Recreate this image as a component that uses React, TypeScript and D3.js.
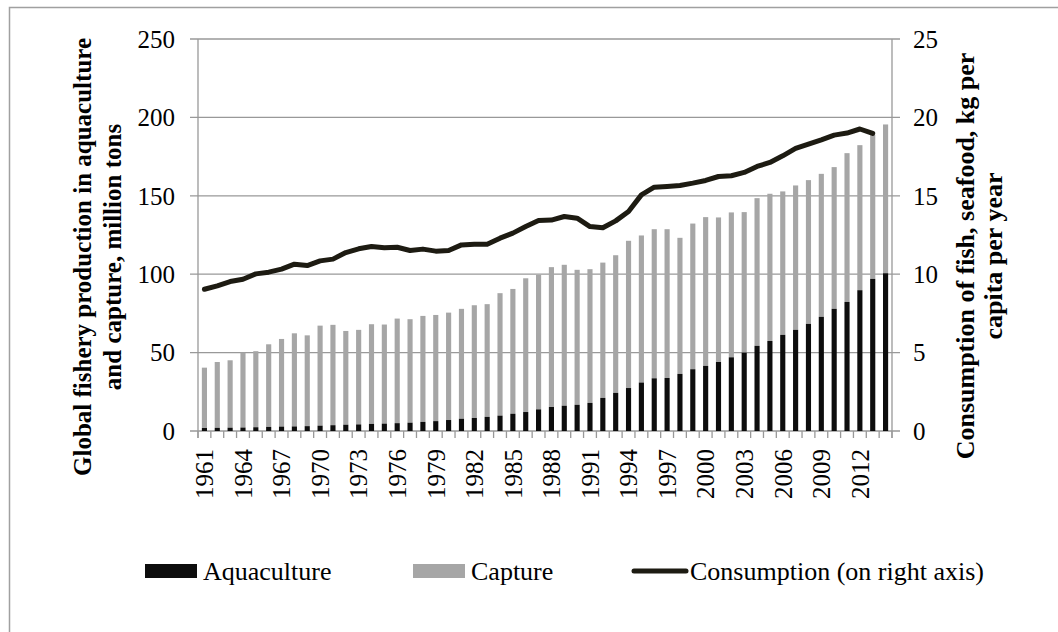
import * as d3 from "d3";

const years = d3.range(1961, 2015).map(String);

const aquaculture = [
  1.9, 2.0, 2.1, 2.2, 2.4, 2.6, 2.8, 2.9, 3.1, 3.4,
  3.7, 4.0, 4.2, 4.5, 4.7, 5.0, 5.3, 5.8, 6.3, 7.0,
  7.8, 8.3, 9.0, 9.8, 11.0, 12.1, 13.8, 15.3, 16.1, 16.7,
  17.9, 21.1, 24.3, 27.4, 30.9, 33.6, 33.8, 36.4, 39.4, 41.5,
  44.0, 47.0, 50.0, 54.3, 57.4, 61.3, 64.5, 68.3, 72.8, 77.9,
  82.3, 89.8, 97.0, 100.6,
];

const capture = [
  38.5, 42.0, 43.0, 47.8, 48.5, 52.7, 55.9, 59.4, 57.9, 63.8,
  64.0, 59.8, 60.3, 63.6, 63.2, 66.7, 66.0, 67.6, 67.7, 68.5,
  70.1, 71.9, 71.9, 78.1, 79.6, 85.3, 85.8, 89.2, 89.9, 86.1,
  85.3, 86.3, 87.8, 93.9, 93.8, 95.1, 94.9, 86.8, 92.9, 94.9,
  92.2, 92.4, 89.6, 94.2, 93.9, 91.5, 92.1, 91.7, 91.2, 90.4,
  94.9, 92.5, 92.0, 94.9,
];

// consumption runs 1961-2013
const consumption = [
  9.04, 9.26, 9.53, 9.68, 10.02, 10.13, 10.32, 10.64, 10.55, 10.85,
  10.96, 11.38, 11.62, 11.77, 11.68, 11.72, 11.51, 11.6, 11.47, 11.51,
  11.87, 11.91, 11.91, 12.3, 12.62, 13.04, 13.43, 13.45, 13.68, 13.57,
  13.04, 12.96, 13.4, 14.0, 15.06, 15.55, 15.6, 15.66, 15.81, 15.98,
  16.23, 16.28, 16.49, 16.87, 17.13, 17.55, 18.02, 18.3, 18.57, 18.87,
  19.0, 19.26, 18.98,
];

const leftTicks = [0, 50, 100, 150, 200, 250];
const rightTicks = [0, 5, 10, 15, 20, 25];
const labelYears = years.filter((_, i) => i % 3 === 0);

const legendItems = [
  { label: "Aquaculture", kind: "rect", color: "#0d0d0d" },
  { label: "Capture", kind: "rect", color: "#a6a6a6" },
  { label: "Consumption (on right axis)", kind: "line", color: "#1d1b12" },
];

const font = "'Liberation Serif', 'Times New Roman', serif";
const gridColor = "#999999";

export default function App() {
  const width = 1058;
  const height = 632;
  const left = 198,
    right = 892,
    top = 39,
    bottom = 431;

  const x = d3.scaleBand().domain(years).range([left, right]).paddingInner(0.6).paddingOuter(0.3);
  const y = d3.scaleLinear().domain([0, 250]).range([bottom, top]);
  const y2 = d3.scaleLinear().domain([0, 25]).range([bottom, top]);
  const step = x.step();
  const bw = x.bandwidth();
  const cx = (yr) => (x(yr) || 0) + bw / 2;

  const line = d3
    .line<number>()
    .x((_, i) => cx(years[i]))
    .y((d) => y2(d));

  const legendX = [145, 413, 632];

  return (
    <svg
      width={width}
      height={height}
      style={{ position: "absolute", left: 0, top: 0, background: "#fff" }}
      fontFamily={font}
    >
      <rect x={9.5} y={7.5} width={1100} height={700} fill="none" stroke="#a0a0a0" strokeWidth={1.5} />

      {/* grid + ticks */}
      {leftTicks.map((t) => (
        <g key={t}>
          <line x1={left - 8} x2={right + 8} y1={y(t)} y2={y(t)} stroke={gridColor} strokeWidth={1.3} />
          <text x={175} y={y(t)} dy="0.35em" textAnchor="end" fontSize={25}>
            {t}
          </text>
        </g>
      ))}
      {rightTicks.map((t) => (
        <text key={t} x={913} y={y2(t)} dy="0.35em" fontSize={25}>
          {t}
        </text>
      ))}
      <line x1={left} x2={left} y1={top} y2={bottom + 7} stroke={gridColor} strokeWidth={1.3} />
      <line x1={right} x2={right} y1={top} y2={bottom + 7} stroke={gridColor} strokeWidth={1.3} />
      {d3.range(years.length + 1).map((i) => (
        <line
          key={i}
          x1={left + i * step}
          x2={left + i * step}
          y1={bottom}
          y2={bottom + 7}
          stroke={gridColor}
          strokeWidth={1.3}
        />
      ))}

      {/* bars */}
      {years.map((yr, i) => (
        <g key={yr}>
          <rect
            x={x(yr)}
            y={y(aquaculture[i] + capture[i])}
            width={bw}
            height={y(aquaculture[i]) - y(aquaculture[i] + capture[i])}
            fill="#a6a6a6"
          />
          <rect x={x(yr)} y={y(aquaculture[i])} width={bw} height={bottom - y(aquaculture[i])} fill="#0d0d0d" />
        </g>
      ))}

      <path
        d={line(consumption) || ""}
        fill="none"
        stroke="#1d1b12"
        strokeWidth={5}
        strokeLinejoin="round"
        strokeLinecap="round"
      />

      {/* x labels */}
      {labelYears.map((yr) => (
        <text
          key={yr}
          transform={`translate(${cx(yr)},449) rotate(-90)`}
          dy="0.35em"
          textAnchor="end"
          fontSize={25}
        >
          {yr}
        </text>
      ))}

      {/* axis titles */}
      <text transform="translate(91,257) rotate(-90)" textAnchor="middle" fontSize={25} fontWeight="bold">
        Global fishery production in aquaculture
      </text>
      <text transform="translate(121,257) rotate(-90)" textAnchor="middle" fontSize={25} fontWeight="bold">
        and capture, million tons
      </text>
      <text transform="translate(974,256) rotate(-90)" textAnchor="middle" fontSize={26} fontWeight="bold">
        Consumption of fish, seafood, kg per
      </text>
      <text transform="translate(1002,256) rotate(-90)" textAnchor="middle" fontSize={26} fontWeight="bold">
        capita per year
      </text>

      {/* legend */}
      {legendItems.map((d, i) => (
        <g key={d.label} transform={`translate(${legendX[i]},571)`}>
          {d.kind === "rect" ? (
            <rect x={0} y={-7} width={52} height={14} fill={d.color} />
          ) : (
            <line x1={2} x2={54} y1={0} y2={0} stroke={d.color} strokeWidth={5} strokeLinecap="round" />
          )}
          <text x={58} y={0} dy="0.35em" fontSize={26}>
            {d.label}
          </text>
        </g>
      ))}
    </svg>
  );
}
